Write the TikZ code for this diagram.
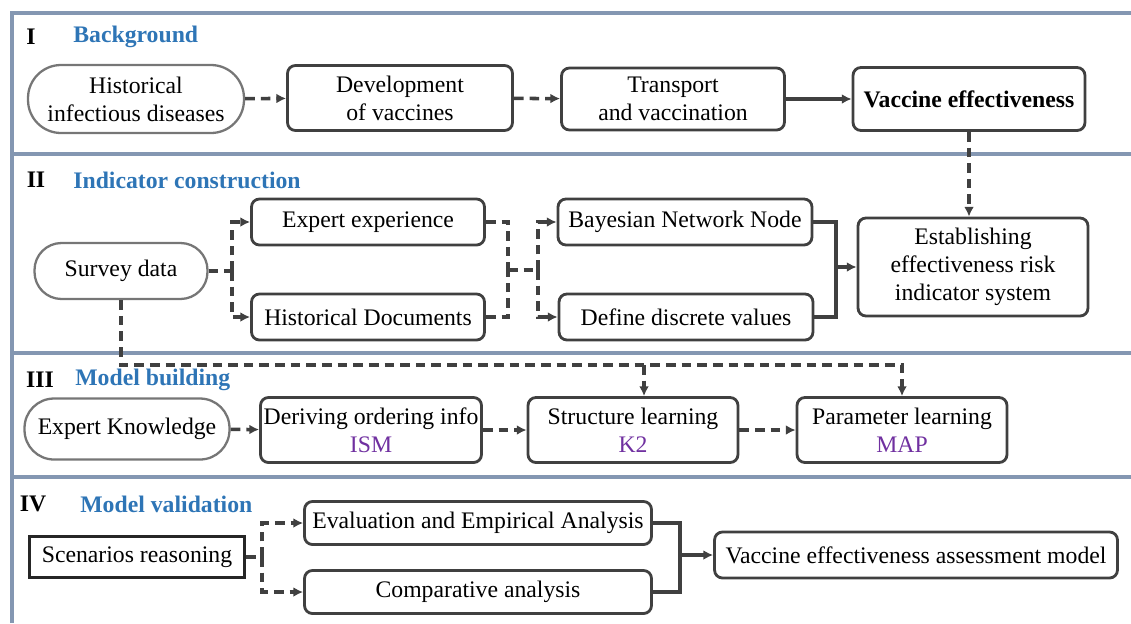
\documentclass[tikz,border=0pt]{standalone}
\usepackage{fontspec}
\setmainfont{Liberation Serif}
\usepackage{xcolor}
\usepackage{tikz}
\usetikzlibrary{positioning,shapes,arrows,arrows.meta,calc}

\definecolor{framegray}{RGB}{132,151,178}
\definecolor{headblue}{RGB}{46,117,182}
\definecolor{methpurple}{RGB}{112,48,160}
\definecolor{linegray}{RGB}{64,64,64}
\definecolor{ovalgray}{RGB}{118,118,118}

\begin{document}
\begin{tikzpicture}[x=0.02cm, y=-0.02cm,
  font=\fontsize{13.5}{16}\selectfont,
  procbox/.style={draw=linegray, line width=1.6pt, rounded corners=4.5pt, align=center, inner sep=1pt},
  oval/.style={draw=ovalgray, line width=1.3pt, rounded corners=#1, align=center, inner sep=1pt},
  plainbox/.style={draw=black!85, line width=1.7pt, align=center, inner sep=1pt},
  dashline/.style={draw=linegray, line width=2pt, dash pattern=on 5.5pt off 3.4pt},
  dasharrow/.style={dashline, -{Latex[length=5.5pt,width=5.5pt]}},
  solidline/.style={draw=linegray, line width=2pt},
  solidarrow/.style={solidline, -{Latex[length=5.5pt,width=5.5pt]}},
  frameline/.style={draw=framegray, line width=2.3pt},
  secnum/.style={font=\fontsize{13.5}{16}\selectfont\bfseries},
  sechead/.style={anchor=west, inner sep=0pt, font=\fontsize{13.5}{16}\selectfont\bfseries, text=headblue}
]
\useasboundingbox (0,0) rectangle (1131,623);

% Frame and section rules
\draw[frameline] (12,623) -- (12,13) -- (1131,13);
\foreach \y in {154,353,477}
  \draw[frameline] (12,\y) -- (1131,\y);

% Section headings
\node[secnum] (n1) at (31,37) {I};
\node[sechead] (h1) at (73,37) {Background};
\node[secnum] (n2) at (36,180) {II};
\node[sechead] (h2) at (73,180) {Indicator construction};
\node[secnum] (n3) at (40,380) {III};
\node[sechead] (h3) at (75,380) {Model building};
\node[secnum] (n4) at (33,504) {IV};
\node[sechead] (h4) at (80,504) {Model validation};

% I Background
\node[oval=0.66cm, minimum width=4.32cm, minimum height=1.36cm] (hid) at (136,99) {Historical\\infectious diseases};
\node[procbox, minimum width=4.5cm, minimum height=1.3cm] (dov) at (400,98) {Development\\of vaccines};
\node[procbox, minimum width=4.46cm, minimum height=1.24cm] (tav) at (673,99) {Transport\\and vaccination};
\node[procbox, minimum width=4.64cm, minimum height=1.26cm, font=\fontsize{13.5}{16}\selectfont\bfseries] (vef) at (969,99) {Vaccine effectiveness};

\draw[dasharrow] (hid) -- (dov);
\draw[dasharrow] (dov) -- (tav);
\draw[solidarrow] (tav) -- (vef);

% II Indicator construction
\node[oval=0.54cm, minimum width=3.46cm, minimum height=1.12cm] (svd) at (121,271) {Survey data};
\node[procbox, minimum width=4.66cm, minimum height=0.92cm] (exe) at (368,222) {Expert experience};
\node[procbox, minimum width=4.66cm, minimum height=0.92cm] (hdo) at (368,317) {Historical Documents};
\node[procbox, minimum width=5.08cm, minimum height=0.92cm] (bnn) at (685,222) {Bayesian Network Node};
\node[procbox, minimum width=5.08cm, minimum height=0.92cm] (ddv) at (686,317) {Define discrete values};
\node[procbox, minimum width=4.6cm, minimum height=1.96cm] (erl) at (973,267) {Establishing\\effectiveness risk\\indicator system};

\draw[dasharrow] (vef.south) -- (vef.south |- erl.north);

\coordinate (sj) at (232,271);
\draw[dashline] (svd) -- (sj);
\draw[dasharrow] (sj) |- (exe.west);
\draw[dasharrow] (sj) |- (hdo.west);

\coordinate (mj) at (508,270);
\coordinate (nj) at (538,270);
\draw[dashline] (exe.east) -| (mj);
\draw[dashline] (hdo.east) -| (mj);
\draw[dashline] (mj) -- (nj);
\draw[dasharrow] (nj) |- (bnn.west);
\draw[dasharrow] (nj) |- (ddv.west);

\coordinate (ej) at (836,267);
\draw[solidline] (bnn.east) -| (ej);
\draw[solidline] (ddv.east) -| (ej);
\draw[solidarrow] (ej) -- (erl);

% III Model building
\node[oval=0.59cm, minimum width=4.1cm, minimum height=1.22cm] (ekn) at (127,429) {Expert Knowledge};
\node[procbox, minimum width=4.42cm, minimum height=1.3cm] (doi) at (371,430) {Deriving ordering info\\\textcolor{methpurple}{ISM}};
\node[procbox, minimum width=4.2cm, minimum height=1.3cm] (stl) at (633,430) {Structure learning\\\textcolor{methpurple}{K2}};
\node[procbox, minimum width=4.2cm, minimum height=1.3cm] (pal) at (902,430) {Parameter learning\\\textcolor{methpurple}{MAP}};

\draw[dasharrow] (ekn) -- (doi);
\draw[dasharrow] (doi) -- (stl);
\draw[dasharrow] (stl) -- (pal);

% survey data feeds the learning steps
\coordinate (pj) at (902,365);
\coordinate (kj) at (644,365);
\draw[dasharrow] (svd.south) |- (pj) -- (pal.north);
\draw[dasharrow] (kj) -- (kj |- stl.north);

% IV Model validation
\node[plainbox, minimum width=4.3cm, minimum height=0.82cm] (scr) at (137,557) {Scenarios reasoning};
\node[procbox, minimum width=6.94cm, minimum height=0.86cm] (eea) at (478,523) {Evaluation and Empirical Analysis};
\node[procbox, minimum width=6.94cm, minimum height=0.86cm] (coa) at (478,592) {Comparative analysis};
\node[procbox, minimum width=8.06cm, minimum height=0.92cm] (vam) at (916,555) {Vaccine effectiveness assessment model};

\coordinate (vj) at (262,557);
\draw[dashline] (scr) -- (vj);
\draw[dasharrow] (vj) |- (eea.west);
\draw[dasharrow] (vj) |- (coa.west);

\coordinate (wj) at (680,555);
\draw[solidline] (eea.east) -| (wj);
\draw[solidline] (coa.east) -| (wj);
\draw[solidarrow] (wj) -- (vam);

\end{tikzpicture}
\end{document}
